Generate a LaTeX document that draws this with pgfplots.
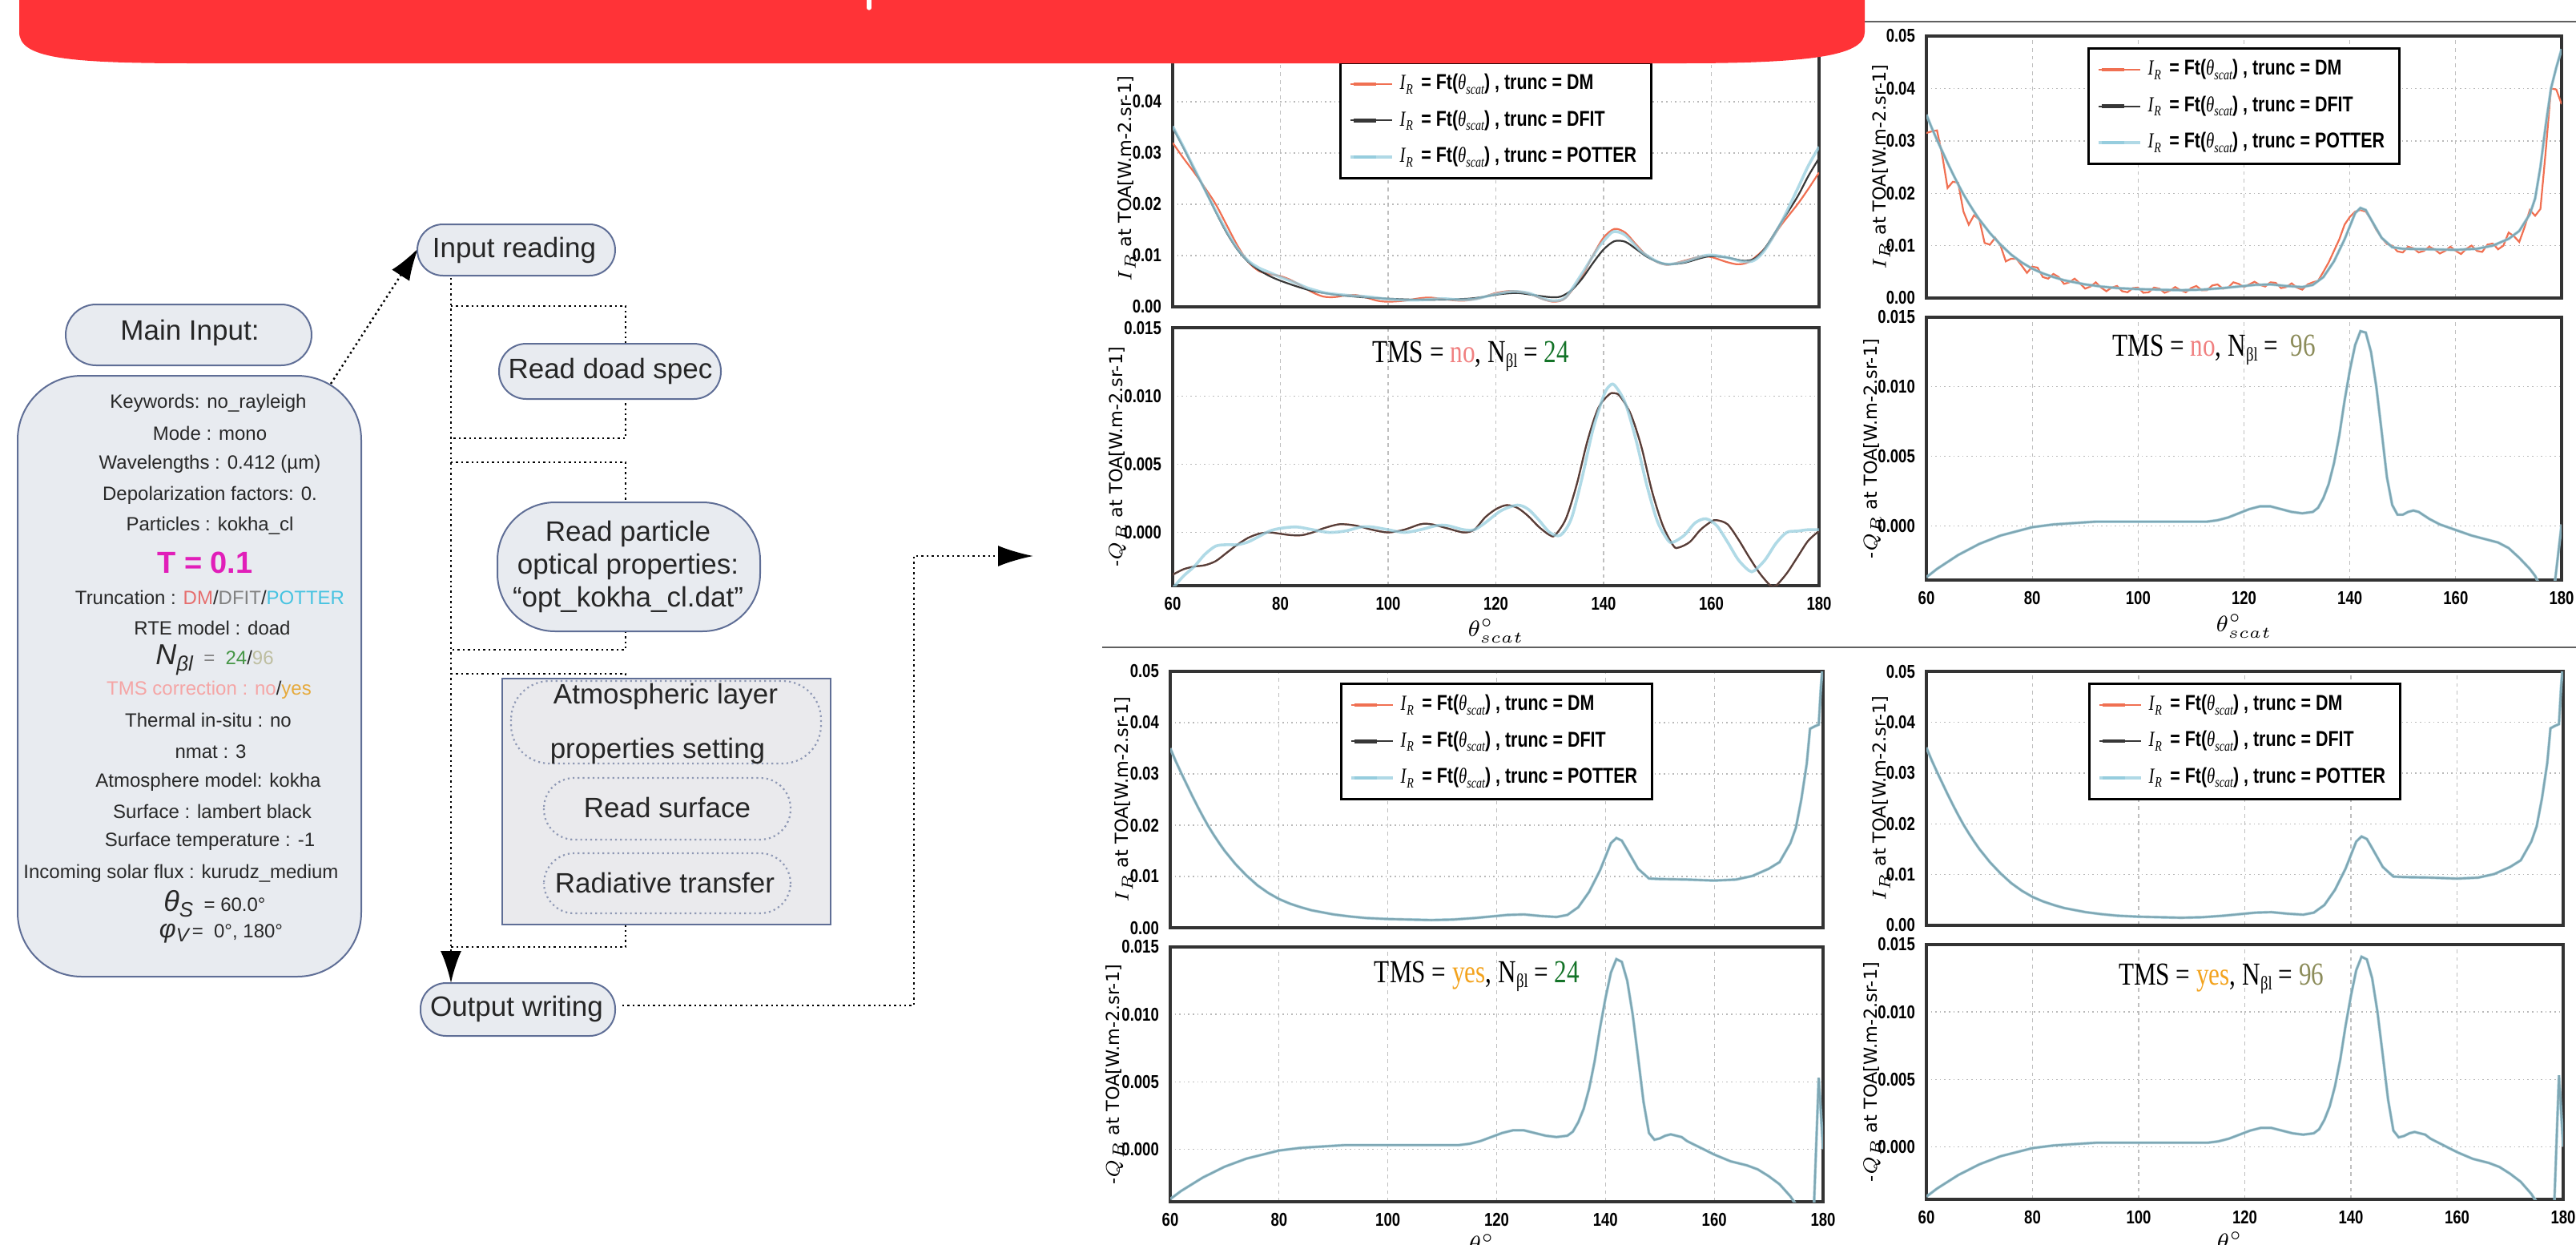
\documentclass[border=0pt]{standalone}
\usepackage{fontspec}
\setmainfont{Liberation Sans}
\newfontfamily\tickf[FakeStretch=0.8]{Liberation Sans}
\newfontfamily\serifn[FakeStretch=0.78]{Liberation Serif}
\newfontfamily\dejav{DejaVu Sans}
\usepackage{pgfplots}
\pgfplotsset{compat=1.18}
\usepackage{pgfplotstable}
\usetikzlibrary{arrows.meta}

\definecolor{bannerred}{RGB}{255,51,55}
\definecolor{cDM}{RGB}{240,112,82}
\definecolor{cDF}{RGB}{55,55,55}
\definecolor{cPO}{RGB}{150,205,222}
\definecolor{bxf}{RGB}{232,235,240}
\definecolor{bxd}{RGB}{95,110,150}
\definecolor{grayf}{RGB}{234,234,237}
\definecolor{cno}{RGB}{240,128,128}
\definecolor{cyes}{RGB}{243,163,30}
\definecolor{c24}{RGB}{20,115,40}
\definecolor{c96}{RGB}{140,140,90}
\definecolor{tmag}{RGB}{225,30,185}
\definecolor{tDM}{RGB}{230,110,110}
\definecolor{tPO}{RGB}{70,195,225}
\definecolor{tN24}{RGB}{70,150,70}
\definecolor{tN96}{RGB}{190,190,160}
\definecolor{tTMS}{RGB}{245,165,165}
\definecolor{tyes}{RGB}{230,170,60}
\definecolor{txt}{RGB}{40,40,40}

\newcommand\IR{{\serifn\itshape I\kern0.03em\raisebox{-0.45ex}{\fontsize{4.5}{4.5}\selectfont R}}}
\newcommand\thsc{{\serifn\itshape θ\raisebox{-0.45ex}{\fontsize{4.5}{4.5}\selectfont scat}}}
\newcommand\legtxt[1]{\IR\,{\tickf\bfseries\ = Ft(}\thsc{\tickf\bfseries ) , trunc = #1}}
\newcommand\nbl{N\raisebox{-0.35ex}{\fontsize{6}{6}\selectfont βl}}

% ---------------- data ----------------
\pgfplotstableread{
x y
60 0.0320
62 0.0290
64 0.0262
66 0.0232
68 0.0200
70 0.0160
72 0.0120
74 0.0088
76 0.0070
78 0.0064
80 0.0060
82 0.0052
84 0.0040
86 0.0028
88 0.0020
90 0.0019
92 0.0022
94 0.0023
96 0.0018
98 0.0012
100 0.0010
103 0.0012
106 0.0017
108 0.0018
111 0.0014
114 0.0012
117 0.0017
120 0.0027
123 0.0031
126 0.0026
129 0.0014
131 0.0010
133 0.0018
136 0.0060
138 0.0100
140 0.0135
142 0.0152
144 0.0145
146 0.0122
148 0.0100
150 0.0087
152 0.0082
155 0.0090
158 0.0098
160 0.0097
163 0.0087
165 0.0083
167 0.0088
170 0.0115
173 0.0160
176 0.0200
178 0.0230
180 0.0262
}\aDM
\pgfplotstableread{
x y
60 0.0350
62 0.0310
64 0.0268
66 0.0228
68 0.0185
70 0.0145
72 0.0112
74 0.0088
76 0.0072
78 0.0060
80 0.0051
83 0.0040
86 0.0031
90 0.0024
95 0.0019
100 0.0016
105 0.0014
110 0.0014
115 0.0016
118 0.0020
121 0.0025
124 0.0027
127 0.0023
130 0.0019
132 0.0020
134 0.0032
136 0.0055
138 0.0085
140 0.0112
142 0.0128
144 0.0127
146 0.0113
148 0.0098
150 0.0088
152 0.0083
155 0.0086
158 0.0095
160 0.0099
163 0.0096
166 0.0090
168 0.0094
170 0.0115
173 0.0165
176 0.0215
178 0.0255
180 0.0290
}\aDF
\pgfplotstableread{
x y
60 0.0352
62 0.0312
64 0.0270
66 0.0228
68 0.0187
70 0.0148
72 0.0114
74 0.0090
76 0.0076
78 0.0067
80 0.0058
83 0.0046
85 0.0037
88 0.0028
90 0.0025
93 0.0022
96 0.0020
100 0.0015
104 0.0013
107 0.0014
110 0.0016
113 0.0014
116 0.0015
120 0.0025
123 0.0030
126 0.0027
129 0.0015
131 0.0012
133 0.0019
136 0.0065
139 0.0115
141 0.0140
142 0.0147
144 0.0140
147 0.0108
150 0.0088
152 0.0083
155 0.0088
158 0.0098
160 0.0101
163 0.0096
166 0.0088
168 0.0091
170 0.0112
173 0.0165
176 0.0230
178 0.0275
180 0.0312
}\aPO
\pgfplotstableread{
x y
60 -0.0031
62 -0.0027
64 -0.0025
66 -0.0024
68 -0.0021
70 -0.0015
72 -0.0009
74 -0.0004
76 -0.0001
78 0.0000
80 -0.0001
82 -0.0002
84 -0.0002
86 0.0000
88 0.0003
91 0.0006
94 0.0005
97 0.0002
100 0.0000
103 0.0002
106 0.0006
108 0.0006
111 0.0003
114 0.0000
116 0.0002
118 0.0011
120 0.0017
122 0.0020
124 0.0018
126 0.0012
128 0.0004
130 -0.0002
131 -0.0002
133 0.0010
135 0.0035
137 0.0067
139 0.0091
141 0.0101
142 0.0102
143 0.0100
145 0.0087
147 0.0063
149 0.0030
151 0.0005
153 -0.0010
154 -0.0011
156 -0.0007
158 0.0002
160 0.0008
161 0.0009
163 0.0006
165 -0.0005
167 -0.0018
169 -0.0030
171 -0.0039
172 -0.0039
174 -0.0030
176 -0.0018
178 -0.0006
180 0.0001
}\qaD
\pgfplotstableread{
x y
60 -0.0041
62 -0.0032
64 -0.0025
66 -0.0016
68 -0.0010
70 -0.0009
72 -0.0009
74 -0.0007
76 -0.0003
78 0.0001
80 0.0003
83 0.0004
86 0.0002
89 0.0000
92 0.0001
95 0.0004
97 0.0004
100 0.0002
103 0.0000
106 0.0002
109 0.0005
111 0.0005
114 0.0002
116 0.0002
118 0.0007
121 0.0016
124 0.0020
126 0.0017
128 0.0009
130 0.0000
132 -0.0002
134 0.0010
136 0.0040
138 0.0075
140 0.0100
141 0.0107
142 0.0108
144 0.0095
146 0.0068
148 0.0035
150 0.0008
152 -0.0006
153 -0.0007
155 -0.0002
157 0.0007
159 0.0010
161 0.0005
163 -0.0007
165 -0.0020
167 -0.0028
168 -0.0028
170 -0.0020
172 -0.0008
174 0.0000
176 0.0001
178 0.0002
180 0.0002
}\qaP
\pgfplotstableread{
x y
60 0.0315
61 0.0318
62 0.0320
63 0.0272
64 0.0210
65 0.0222
66 0.0220
67 0.0165
68 0.0140
69 0.0158
70 0.0150
71 0.0105
72 0.0102
73 0.0115
74 0.0100
75 0.0070
76 0.0075
77 0.0075
78 0.0062
79 0.0048
80 0.0060
81 0.0058
82 0.0040
83 0.0037
84 0.0046
85 0.0040
86 0.0027
87 0.0030
88 0.0037
89 0.0028
90 0.0018
91 0.0022
92 0.0030
93 0.0020
94 0.0013
95 0.0020
96 0.0023
97 0.0013
98 0.0011
99 0.0019
100 0.0020
101 0.0010
102 0.0011
103 0.0020
104 0.0018
105 0.0010
106 0.0014
107 0.0021
108 0.0015
109 0.0011
110 0.0019
111 0.0023
112 0.0015
113 0.0015
114 0.0024
115 0.0026
116 0.0018
117 0.0020
118 0.0030
119 0.0027
120 0.0021
121 0.0026
122 0.0031
123 0.0025
124 0.0022
125 0.0030
126 0.0029
127 0.0019
128 0.0021
129 0.0028
130 0.0020
131 0.0016
132 0.0026
133 0.0030
134 0.0033
135 0.0050
136 0.0068
137 0.0090
138 0.0112
139 0.0140
140 0.0155
141 0.0165
142 0.0168
143 0.0165
144 0.0150
145 0.0130
146 0.0115
147 0.0103
148 0.0100
149 0.0089
150 0.0087
151 0.0098
152 0.0095
153 0.0087
154 0.0090
155 0.0098
156 0.0093
157 0.0085
158 0.0090
159 0.0098
160 0.0090
161 0.0084
162 0.0094
163 0.0100
164 0.0090
165 0.0088
166 0.0102
167 0.0104
168 0.0093
169 0.0100
170 0.0125
171 0.0118
172 0.0107
173 0.0135
174 0.0168
175 0.0157
176 0.0170
177 0.0280
178 0.0400
179 0.0398
180 0.0370
}\bDM
\pgfplotstableread{
x y
60 0.0350
61 0.0325
62 0.0302
63 0.0280
64 0.0258
65 0.0237
66 0.0217
67 0.0198
68 0.0181
69 0.0165
70 0.0150
72 0.0124
74 0.0102
76 0.0083
78 0.0068
80 0.0056
82 0.0047
84 0.0040
86 0.0034
88 0.0030
90 0.0026
93 0.0022
96 0.0019
100 0.0017
104 0.0016
108 0.0015
112 0.0016
116 0.0019
119 0.0022
122 0.0025
125 0.0026
128 0.0023
131 0.0021
133 0.0025
135 0.0040
137 0.0070
139 0.0112
141 0.0162
142 0.0172
143 0.0168
144 0.0150
146 0.0115
148 0.0097
150 0.0094
155 0.0093
160 0.0092
164 0.0094
167 0.0100
170 0.0113
172 0.0128
174 0.0160
175 0.0190
176 0.0250
177 0.0330
178 0.0400
179 0.0440
180 0.0475
}\bS
\pgfplotstableread{
x y
60 -0.0037
62 -0.0031
64 -0.0026
66 -0.0021
68 -0.0017
70 -0.0013
72 -0.0010
74 -0.0007
76 -0.0005
78 -0.0003
80 -0.0001
84 0.0001
88 0.0002
92 0.0003
100 0.0003
108 0.0003
113 0.0003
115 0.0004
117 0.0006
119 0.0009
121 0.0012
123 0.0014
125 0.0014
127 0.0012
129 0.0010
131 0.0009
133 0.0010
134 0.0013
135 0.0020
136 0.0030
137 0.0045
138 0.0065
139 0.0090
140 0.0112
141 0.0130
142 0.0140
143 0.0139
144 0.0125
145 0.0100
146 0.0068
147 0.0035
148 0.0015
149 0.0008
150 0.0008
151 0.0010
152 0.0011
153 0.0010
155 0.0005
157 0.0001
160 -0.0003
163 -0.0007
166 -0.0010
168 -0.0012
170 -0.0016
172 -0.0023
174 -0.0031
175 -0.0036
176.5 -0.0048
178 -0.0055
178.6 -0.0045
180 0.0001
}\qb
\pgfplotstableread{
x y
60 0.0350
61 0.0325
62 0.0302
63 0.0280
64 0.0258
65 0.0237
66 0.0217
67 0.0198
68 0.0181
69 0.0165
70 0.0150
72 0.0124
74 0.0102
76 0.0083
78 0.0068
80 0.0056
82 0.0047
84 0.0040
86 0.0034
88 0.0030
90 0.0026
93 0.0022
96 0.0019
100 0.0017
104 0.0016
108 0.0015
112 0.0016
116 0.0019
119 0.0022
122 0.0025
125 0.0026
128 0.0023
131 0.0021
133 0.0025
135 0.0040
137 0.0070
139 0.0112
141 0.0165
142 0.0175
143 0.0170
144 0.0152
146 0.0115
148 0.0096
150 0.0095
155 0.0094
160 0.0092
164 0.0094
167 0.0101
170 0.0115
172 0.0128
174 0.0165
175 0.0195
176 0.0250
177 0.0320
177.6 0.0388
178.5 0.0393
179.2 0.0396
179.6 0.0470
180 0.0520
}\yI
\pgfplotstableread{
x y
60 -0.0037
62 -0.0031
64 -0.0026
66 -0.0021
68 -0.0017
70 -0.0013
72 -0.0010
74 -0.0007
76 -0.0005
78 -0.0003
80 -0.0001
84 0.0001
88 0.0002
92 0.0003
100 0.0003
108 0.0003
113 0.0003
115 0.0004
117 0.0006
119 0.0009
121 0.0012
123 0.0014
125 0.0014
127 0.0012
129 0.0010
131 0.0009
133 0.0010
134 0.0013
135 0.0020
136 0.0030
137 0.0045
138 0.0065
139 0.0090
140 0.0112
141 0.0131
142 0.0141
143 0.0139
144 0.0125
145 0.0100
146 0.0068
147 0.0035
148 0.0012
149 0.0007
150 0.0008
151 0.0010
152 0.0011
153 0.0010
154 0.0009
155 0.0006
157 0.0002
160 -0.0004
163 -0.0009
166 -0.0012
168 -0.0015
170 -0.0020
172 -0.0026
174 -0.0035
175 -0.0041
176.5 -0.0052
177.5 -0.0058
178.3 -0.0045
179.2 0.0053
180 0.0000
}\yQ

\tikzset{ann/.style={font=\serifn\fontsize{10}{11}\selectfont, anchor=center}}
\pgfplotsset{
  dm/.style={color=cDM, line width=0.55pt},
  df/.style={color=cDF, line width=0.55pt},
  po/.style={color=cPO, line width=0.9pt, opacity=0.75},
  base/.style={scale only axis, xmin=60, xmax=180, xtick={60,80,100,120,140,160,180},
    grid=major,
    x grid style={gray!50, dash pattern=on 1.2pt off 1.2pt, line width=0.3pt},
    y grid style={gray!55, densely dotted, line width=0.35pt},
    axis line style={black!80, line width=0.8pt},
    tick style={draw=none},
    ticklabel style={font=\tickf\bfseries\fontsize{5.8}{6}\selectfont, text=black},
    /pgf/number format/assume math mode=true,
    scaled y ticks=false,
    ylabel style={font=\dejav\fontsize{5.6}{6}\selectfont, anchor=center},
    legend image code/.code={\draw[#1, line width=1.1pt, opacity=1] (0pt,0pt) -- (7pt,0pt); \path (-1pt,0pt) -- (12pt,0pt);},
    legend style={font=\fontsize{6.7}{7}\selectfont, draw=black, line width=0.75pt,
      at={(0.5,0.957)}, anchor=north, row sep=1pt, inner ysep=1.5pt, inner xsep=2.5pt},
    legend cell align=left,
  },
  topI/.style={base, ymin=0, ymax=0.05, ytick={0,0.01,0.02,0.03,0.04,0.05},
    y tick label style={/pgf/number format/fixed, /pgf/number format/fixed zerofill, /pgf/number format/precision=2},
    xticklabels={},
    ylabel={$I_R$ at TOA[W.m-2.sr-1]},
    ylabel style={at={(axis description cs:-0.071,0.5)}}},
  botQ/.style={base, ymin=-0.0039, ymax=0.015, ytick={0,0.005,0.01,0.015},
    y tick label style={/pgf/number format/fixed, /pgf/number format/fixed zerofill, /pgf/number format/precision=3},
    ylabel={-$Q_R$ at TOA[W.m-2.sr-1]},
    ylabel style={at={(axis description cs:-0.085,0.5)}},
    xlabel={$\theta^{\circ}_{scat}$},
    xlabel style={at={(axis description cs:0.5,-0.175)}, anchor=center, font=\fontsize{7}{8}\selectfont}},
}

\begin{document}
\begin{tikzpicture}
\useasboundingbox (0pt,0pt) rectangle (804pt,-388.5pt);
\begin{scope}[x=0.25pt, y=-0.25pt]
\coordinate (aT) at (1464,383);
\coordinate (aB) at (1464,731);
\coordinate (bT) at (2405,372);
\coordinate (bB) at (2405,724);
\coordinate (cT) at (1461,1158);
\coordinate (cB) at (1461,1500);
\coordinate (dT) at (2405,1155);
\coordinate (dB) at (2405,1497);

\tikzset{fb/.style={draw=bxd, fill=bxf, line width=0.5pt},
  el/.style={draw=bxd!70, fill=grayf, densely dotted, line width=0.55pt},
  dl/.style={densely dotted, line width=0.6pt, black},
  tt/.style={font=\fontsize{8.75}{10}\selectfont, text=black!85}}

% connectors
\draw[dl] (563,382) -- (781,382) -- (781,547) -- (563,547);
\draw[dl] (563,577) -- (781,577) -- (781,811) -- (563,811);
\draw[dl] (563,841) -- (781,841) -- (781,1182) -- (563,1182);
\draw[dl, -{Latex[length=10pt,width=6.5pt]}] (563,347) -- (563,1227);
\draw[dl, -{Latex[length=10pt,width=6.5pt]}] (413,479) -- (522,310);
\draw[dl, -{Latex[length=11pt,width=6.5pt]}] (777,1255) -- (1141,1255) -- (1141,694) -- (1290,694);

% boxes
\draw[fb, rounded corners=9.5pt] (82,380) rectangle (389,456);
\node[tt] at (237,415) {Main Input:};
\draw[fb, rounded corners=20pt] (22,469) rectangle (451,1219);
\draw[fb, rounded corners=8pt] (521,280) rectangle (768,344);
\node[tt] at (642,312) {Input reading};
\draw[fb, rounded corners=8.5pt] (623,429) rectangle (900,498);
\node[tt] at (762,463) {Read doad spec};
\draw[fb, rounded corners=18pt] (621,627) rectangle (949,788);
\node[tt, align=center] at (784,707) {Read particle\\[0.25pt]optical properties:\\[0.25pt]“opt\_kokha\_cl.dat”};
\draw[draw=bxd, fill=grayf, line width=0.55pt] (627,847) rectangle (1037,1154);
\draw[el, rounded corners=12pt] (638,850) rectangle (1025,953);
\node[tt] at (831,869) {Atmospheric layer};
\node[tt] at (821,937) {properties setting};
\draw[el, rounded corners=9.5pt] (679,971) rectangle (987,1048);
\node[tt] at (833,1008) {Read surface};
\draw[el, rounded corners=9.5pt] (679,1065) rectangle (987,1140);
\node[tt] at (830,1102) {Radiative transfer};
\draw[fb, rounded corners=8pt] (525,1227) rectangle (768,1293);
\node[tt] at (645,1259) {Output writing};

% main box text
\tikzset{mb/.style={font=\fontsize{6}{7}\selectfont, text=txt}}
\node[mb] at (260,503) {Keywords: no\_rayleigh};
\node[mb] at (262,541) {Mode : mono};
\node[mb] at (262,579) {Wavelengths : 0.412 (µm)};
\node[mb] at (262,618) {Depolarization factors: 0.};
\node[mb] at (262,656) {Particles : kokha\_cl};
\node[font=\bfseries\fontsize{9.5}{10}\selectfont, text=tmag] at (256,702) {T = 0.1};
\node[mb] at (262,746) {Truncation : \textcolor{tDM}{DM}/\textcolor{gray}{DFIT}/\textcolor{tPO}{POTTER}};
\node[mb] at (265,784) {RTE model : doad};
\node[text=txt] at (268,824) {{\fontsize{9}{9}\selectfont\itshape N\raisebox{-0.4ex}{\fontsize{6.5}{6.5}\selectfont βl}}\fontsize{6}{7}\selectfont\ \ \textcolor{gray}{=}\ \ \textcolor{tN24}{24}/\textcolor{tN96}{96}};
\node[mb] at (261,861) {\textcolor{tTMS}{TMS correction : no}/\textcolor{tyes}{yes}};
\node[mb] at (260,899) {Thermal in-situ : no};
\node[mb] at (263,938) {nmat : 3};
\node[mb] at (260,976) {Atmosphere model: kokha};
\node[mb] at (265,1013) {Surface : lambert black};
\node[mb] at (262,1050) {Surface temperature : -1};
\node[mb] at (226,1090) {Incoming solar flux : kurudz\_medium};
\node[text=txt] at (268,1128) {{\fontsize{9}{9}\selectfont\itshape θ\raisebox{-0.4ex}{\fontsize{6.5}{6.5}\selectfont S}}\fontsize{6}{7}\selectfont\ \ = 60.0°};
\node[text=txt] at (276,1165) {{\fontsize{8}{8}\selectfont\itshape φ\raisebox{-0.3ex}{\fontsize{6}{6}\selectfont V}}\fontsize{6}{7}\selectfont\,= \ 0°, 180°};
\end{scope}

% ---------------- panel A ----------------
\begin{axis}[topI, at={(aT)}, anchor=south west, width=201.75pt, height=80pt]
\addplot[dm, smooth] table {\aDM}; \addlegendentry{\legtxt{DM}}
\addplot[df, smooth] table {\aDF}; \addlegendentry{\legtxt{DFIT}}
\addplot[po, smooth] table {\aPO}; \addlegendentry{\legtxt{POTTER}}
\end{axis}
\begin{axis}[botQ, at={(aB)}, anchor=south west, width=201.75pt, height=80.5pt]
\addplot[dm, smooth] table {\qaD};
\addplot[df, smooth, opacity=0.85] table {\qaD};
\addplot[po, smooth] table {\qaP};
\node[ann] at (axis description cs:0.461,0.888) {TMS = \textcolor{cno}{no}, \nbl\ = \textcolor{c24}{24}};
\end{axis}

% ---------------- panel B ----------------
\begin{axis}[topI, at={(bT)}, anchor=south west, width=198.25pt, height=81.75pt]
\addplot[dm] table {\bDM}; \addlegendentry{\legtxt{DM}}
\addplot[df] table {\bS}; \addlegendentry{\legtxt{DFIT}}
\addplot[po] table {\bS}; \addlegendentry{\legtxt{POTTER}}
\end{axis}
\begin{axis}[botQ, at={(bB)}, anchor=south west, width=198.25pt, height=82pt]
\addplot[dm] table {\qb};
\addplot[df] table {\qb};
\addplot[po] table {\qb};
\node[ann] at (axis description cs:0.453,0.875) {TMS = \textcolor{cno}{no}, \nbl\ = \ \textcolor{c96}{96}};
\end{axis}

% ---------------- panel C ----------------
\begin{axis}[topI, at={(cT)}, anchor=south west, width=203.75pt, height=80pt]
\addplot[dm] table {\yI}; \addlegendentry{\legtxt{DM}}
\addplot[df] table {\yI}; \addlegendentry{\legtxt{DFIT}}
\addplot[po] table {\yI}; \addlegendentry{\legtxt{POTTER}}
\end{axis}
\begin{axis}[botQ, at={(cB)}, anchor=south west, width=203.75pt, height=79.5pt]
\addplot[dm] table {\yQ};
\addplot[df] table {\yQ};
\addplot[po] table {\yQ};
\node[ann] at (axis description cs:0.47,0.884) {TMS = \textcolor{cyes}{yes}, \nbl\ = \textcolor{c24}{24}};
\end{axis}

% ---------------- panel D ----------------
\begin{axis}[topI, at={(dT)}, anchor=south west, width=198.75pt, height=79.25pt]
\addplot[dm] table {\yI}; \addlegendentry{\legtxt{DM}}
\addplot[df] table {\yI}; \addlegendentry{\legtxt{DFIT}}
\addplot[po] table {\yI}; \addlegendentry{\legtxt{POTTER}}
\end{axis}
\begin{axis}[botQ, at={(dB)}, anchor=south west, width=198.75pt, height=79.5pt]
\addplot[dm] table {\yQ};
\addplot[df] table {\yQ};
\addplot[po] table {\yQ};
\node[ann] at (axis description cs:0.463,0.865) {TMS = \textcolor{cyes}{yes}, \nbl\ = \textcolor{c96}{96}};
\end{axis}

\begin{scope}[x=0.25pt, y=-0.25pt]
\draw[gray!75!black, line width=0.5pt] (2328,27) -- (3216,27);
\draw[gray!75!black, line width=0.5pt] (1376,808) -- (3216,808);
\fill[bannerred] (24,-100) -- (24,40) .. controls (24,72) and (80,79) .. (240,79) -- (2100,79) .. controls (2270,79) and (2328,68) .. (2328,40) -- (2328,-100) -- cycle;
\draw[white, line width=1.3pt, line cap=round] (1085,-10) -- (1085,10);
\end{scope}
\end{tikzpicture}
\end{document}
